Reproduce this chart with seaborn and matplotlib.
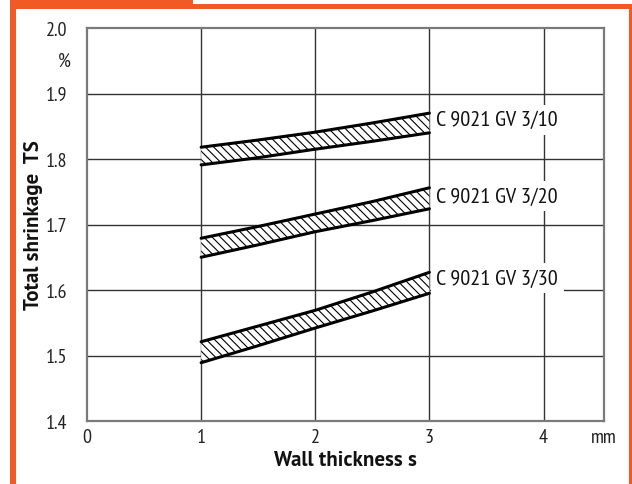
import matplotlib
matplotlib.use("Agg")
import matplotlib.pyplot as plt
import seaborn as sns
import pandas as pd
from matplotlib.patches import Rectangle

# Wall thickness (mm) and shrinkage band limits (%) for each grade
thickness = [1.0, 1.5, 2.0, 2.5, 3.0]
grades = ["C 9021 GV 3/10", "C 9021 GV 3/20", "C 9021 GV 3/30"]
upper = [
    [1.818, 1.829, 1.841, 1.855, 1.870],
    [1.679, 1.697, 1.716, 1.735, 1.756],
    [1.521, 1.545, 1.569, 1.597, 1.627],
]
lower = [
    [1.791, 1.802, 1.815, 1.827, 1.840],
    [1.650, 1.669, 1.689, 1.706, 1.724],
    [1.489, 1.515, 1.542, 1.568, 1.595],
]
label_y = [1.860, 1.743, 1.618]
x_ticks = [0, 1, 2, 3, 4]
y_ticks = [1.4, 1.5, 1.6, 1.7, 1.8, 1.9, 2.0]

sns.set_style("white")
font = ["PT Sans Narrow", "DejaVu Sans"]
bold_font = ["PT Sans", "PT Sans Narrow", "DejaVu Sans"]
plt.rcParams["font.family"] = font
plt.rcParams["hatch.linewidth"] = 0.8

fig = plt.figure(figsize=(6.32, 4.85), dpi=100)
ax = fig.add_axes([87 / 632, 63 / 485, 517 / 632, 393 / 485])

rows = []
for g, up, lo in zip(grades, upper, lower):
    for x, u, l in zip(thickness, up, lo):
        rows.append({"grade": g, "s": x, "edge": "upper", "ts": u})
        rows.append({"grade": g, "s": x, "edge": "lower", "ts": l})
df = pd.DataFrame(rows)

for g, up, lo in zip(grades, upper, lower):
    ax.fill_between(thickness, lo, up, facecolor="white", edgecolor="black",
                    hatch="\\\\\\\\", linewidth=0, zorder=3)
    sub = df[df["grade"] == g]
    sns.lineplot(data=sub, x="s", y="ts", units="edge", estimator=None,
                 color="black", linewidth=2.2, ax=ax, zorder=4, legend=False)

for g, y in zip(grades, label_y):
    ax.text(3.06, y, g, fontsize=16, va="center", ha="left", color="#111111",
            bbox=dict(facecolor="white", edgecolor="none", pad=4), zorder=5)

ax.set_xlim(0, 4.53)
ax.set_ylim(1.4, 2.0)
ax.set_xticks(x_ticks)
ax.set_yticks(y_ticks)
ax.set_xticklabels([str(t) for t in x_ticks], fontsize=14.5, color="#222222")
ax.set_yticklabels([f"{t:.1f}" for t in y_ticks], fontsize=14.5, color="#222222")
ax.tick_params(axis="y", length=0, pad=14)
ax.tick_params(axis="x", length=0, pad=5)

for x in x_ticks[1:]:
    ax.axvline(x, color="#333333", linewidth=1.0, zorder=1)
for y in y_ticks[1:-1]:
    ax.axhline(y, color="#333333", linewidth=1.0, zorder=1)
for sp in ax.spines.values():
    sp.set_color("#7a7a7a")
    sp.set_linewidth(1.6)

ax.set_xlabel("Wall thickness s", fontsize=15, fontweight="bold",
              family=bold_font, labelpad=3, color="#111111")
ax.set_ylabel("Total shrinkage  TS", fontsize=15, fontweight="bold",
              family=bold_font, color="#111111")
ax.yaxis.set_label_coords(-0.085, 0.5)

# unit labels placed in the tick label rows
ax.annotate("%", xy=(0, 1.95), xytext=(-12, 0), textcoords="offset points",
            fontsize=14.5, ha="right", va="center", color="#222222",
            annotation_clip=False)
ax.annotate("mm", xy=(4.53, 1.4), xytext=(0, -5), textcoords="offset points",
            fontsize=14.5, ha="center", va="top", color="#222222",
            annotation_clip=False)

# orange frame around the chart
orange = "#f15a24"
W, H = 632, 485
def frame(x0, y0, w, h):
    fig.patches.append(Rectangle((x0 / W, 1 - (y0 + h) / H), w / W, h / H,
                                 transform=fig.transFigure, facecolor=orange,
                                 edgecolor="none", zorder=-1))
frame(10, 0, 183, 10)
frame(10, 5, 622, 5)
frame(10, 5, 6, 480)
frame(629, 5, 3, 480)

fig.savefig("out.png", dpi=100)
